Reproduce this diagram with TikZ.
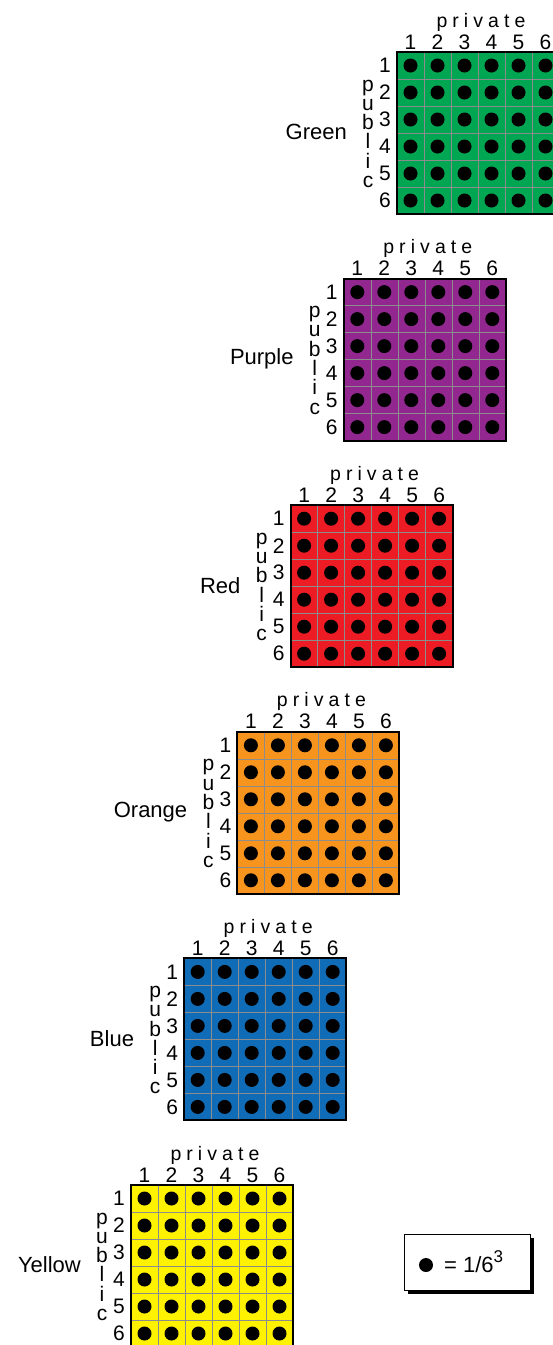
\documentclass[tikz,border=0pt]{standalone}
\usepackage{fontspec}
\setmainfont{Liberation Sans}
\definecolor{cgreen}{RGB}{0,166,81}
\definecolor{cpurple}{RGB}{146,39,143}
\definecolor{cred}{RGB}{237,28,36}
\definecolor{corange}{RGB}{247,148,29}
\definecolor{cblue}{RGB}{16,108,182}
\definecolor{cyellow}{RGB}{255,242,0}
\tikzset{
  gridline/.style={draw=black!45, line width=0.6pt},
  dotmark/.style={fill=black},
  border/.style={draw=black, line width=2pt},
  num/.style={inner sep=0pt, font=\fontsize{21}{23}\selectfont},
  priv/.style={inner sep=0pt, font=\fontsize{19.5}{21}\selectfont\addfontfeatures{LetterSpace=26}},
  pubc/.style={inner sep=0pt, font=\fontsize{21}{23}\selectfont},
  lbl/.style={inner sep=0pt, font=\fontsize{22}{25}\selectfont},
}
\newcommand{\drawgrid}[5]{%
 \begin{scope}[shift={(#3,#4)}]
  \fill[#2] (0,0) rectangle (162,162);
  \foreach \i in {1,...,5} {
    \draw[gridline] (\i*27,0) -- (\i*27,162);
    \draw[gridline] (0,\i*27) -- (162,\i*27);
  }
  \foreach \r in {1,...,6} \foreach \c in {1,...,6}
    \fill[dotmark] (\c*27-13.5,\r*27-13.5) circle (7);
  \draw[border] (0,0) rectangle (162,162);
  \foreach \i in {1,...,6} {
    \node[num, anchor=base] (#1c\i) at (\i*27-13.5,-3) {\i};
    \node[num] (#1r\i) at (-12,\i*27-13.5) {\i};
  }
  \node[priv, anchor=base] (#1priv) at (84,-25) {private};
  \foreach \ch [count=\k from 0] in {p,u,b,l,i,c}
    \node[pubc, anchor=base] (#1p\k) at (-29,39+19.3*\k) {\ch};
  \node[lbl, anchor=east] (#1lbl) at (-50,80) {#5};
 \end{scope}}
\begin{document}
\begin{tikzpicture}[x=1pt,y=-1pt]
\useasboundingbox (0,0) rectangle (552,1345);
\drawgrid{g}{cgreen}{397}{52}{Green}
\drawgrid{p}{cpurple}{343.8}{278.6}{Purple}
\drawgrid{r}{cred}{290.6}{505.2}{Red}
\drawgrid{o}{corange}{237.4}{731.8}{Orange}
\drawgrid{b}{cblue}{184.2}{958.4}{Blue}
\drawgrid{y}{cyellow}{131}{1185}{Yellow}
% legend
\fill[black] (408,1238) rectangle (534,1294);
\node[draw=black, line width=1pt, fill=white, minimum width=126pt, minimum height=56pt, inner sep=0pt] (legend) at (467,1262) {};
\fill[dotmark] (426,1265) circle (7);
\node[lbl, anchor=base west] (legtext) at (444,1272) {= 1/6\raisebox{0.42em}{\fontsize{17}{19}\selectfont 3}};
\end{tikzpicture}
\end{document}
